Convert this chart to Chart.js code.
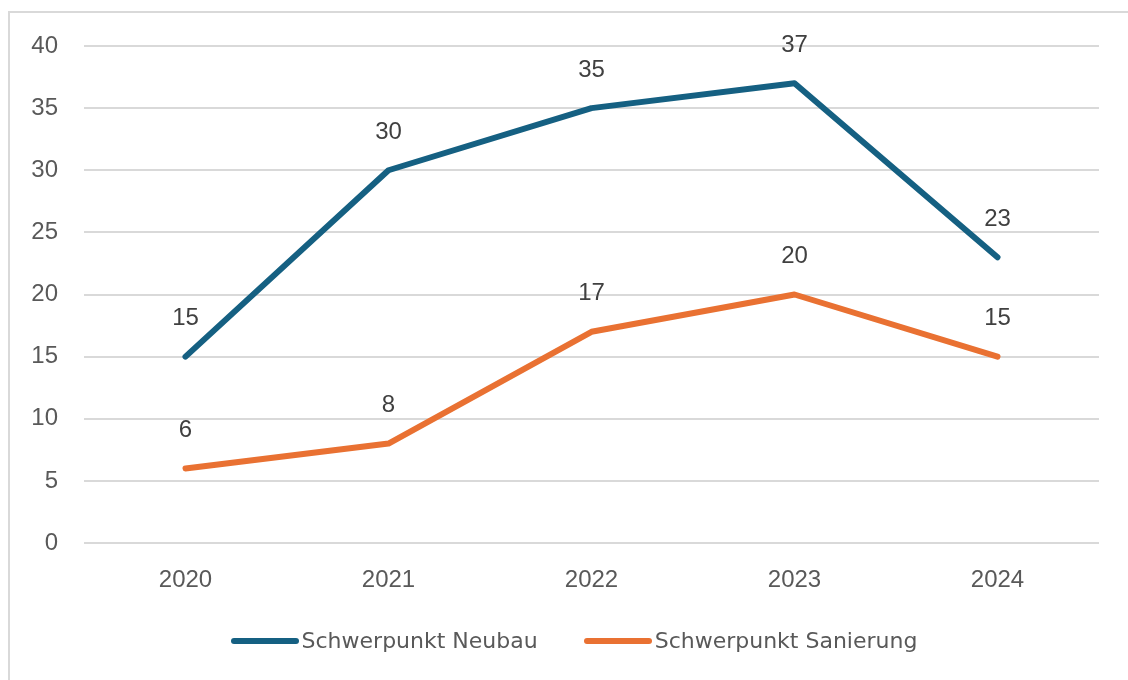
<!DOCTYPE html>
<html>
<head>
<meta charset="utf-8">
<script src="https://cdn.jsdelivr.net/npm/chart.js@4.4.1/dist/chart.umd.min.js"></script>
<style>
  html, body { margin: 0; padding: 0; background: #fff; }
  #frame {
    position: absolute; left: 8px; top: 11px; width: 1130px; height: 680px;
    border: 2px solid #d9d9d9; box-sizing: border-box;
  }
  #wrap { position: absolute; left: 0; top: 0; width: 1128px; height: 680px; }
  #legend {
    position: absolute; left: 20px; top: 628px; width: 1108px; height: 26px;
    display: flex; justify-content: center; align-items: center; gap: 46px;
    font-family: "DejaVu Sans", sans-serif; font-size: 22px; line-height: 26px; color: #595959;
  }
  .legend-item { display: flex; align-items: center; gap: 3px; white-space: nowrap; }
  .legend-line { width: 68px; height: 6px; border-radius: 3px; }
</style>
</head>
<body>
<div id="frame"></div>
<div id="wrap"><canvas id="chart"></canvas></div>
<div id="legend"></div>
<script>
// chart data
const years = ['2020', '2021', '2022', '2023', '2024'];
const neubau = [15, 30, 35, 37, 23];
const sanierung = [6, 8, 17, 20, 15];
const yTicks = [0, 5, 10, 15, 20, 25, 30, 35, 40];

const tickFont = { family: '"Liberation Sans", Arial, sans-serif', size: 24 };

// draws the value above each point
const valueLabels = {
    id: 'valueLabels',
    afterDatasetsDraw(chart) {
        const ctx = chart.ctx;
        ctx.save();
        ctx.font = '24px "Liberation Sans", Arial, sans-serif';
        ctx.fillStyle = '#404040';
        ctx.textAlign = 'center';
        ctx.textBaseline = 'middle';
        chart.data.datasets.forEach((ds, i) => {
            chart.getDatasetMeta(i).data.forEach((pt, j) => {
                ctx.fillText(ds.data[j], pt.x, pt.y - 38);
            });
        });
        ctx.restore();
    }
};

const chart = new Chart(document.getElementById('chart'), {
    type: 'line',
    data: {
        labels: years,
        datasets: [{
            label: 'Schwerpunkt Neubau',
            data: neubau,
            borderColor: '#156082',
            backgroundColor: '#156082',
            borderWidth: 6,
            pointRadius: 0,
            tension: 0,
            borderJoinStyle: 'round',
            borderCapStyle: 'round'
        }, {
            label: 'Schwerpunkt Sanierung',
            data: sanierung,
            borderColor: '#e97132',
            backgroundColor: '#e97132',
            borderWidth: 6,
            pointRadius: 0,
            tension: 0,
            borderJoinStyle: 'round',
            borderCapStyle: 'round'
        }]
    },
    options: {
        responsive: true,
        maintainAspectRatio: false,
        animation: false,
        layout: { padding: { left: 0, right: 29, top: 46, bottom: 93 } },
        plugins: {
            tooltip: { enabled: false },
            legend: { display: false }
        },
        scales: {
            x: {
                offset: true,
                grid: { display: false },
                border: { display: false },
                ticks: { color: '#595959', font: tickFont, padding: 15 },
                afterFit(scale) { scale.height = 44; }
            },
            y: {
                min: 0,
                max: 40,
                afterBuildTicks(scale) { scale.ticks = yTicks.map(v => ({ value: v })); },
                grid: { color: '#d9d9d9', lineWidth: 2, drawTicks: false },
                border: { display: false },
                ticks: { color: '#595959', font: tickFont, padding: 26 },
                afterFit(scale) { scale.width = 84; }
            }
        }
    },
    plugins: [valueLabels]
});

// legend below the chart, built from the datasets
const legend = document.getElementById('legend');
chart.data.datasets.forEach(ds => {
    const item = document.createElement('div');
    item.className = 'legend-item';
    const line = document.createElement('span');
    line.className = 'legend-line';
    line.style.background = ds.borderColor;
    const text = document.createElement('span');
    text.textContent = ds.label;
    item.appendChild(line);
    item.appendChild(text);
    legend.appendChild(item);
});
</script>
</body>
</html>
